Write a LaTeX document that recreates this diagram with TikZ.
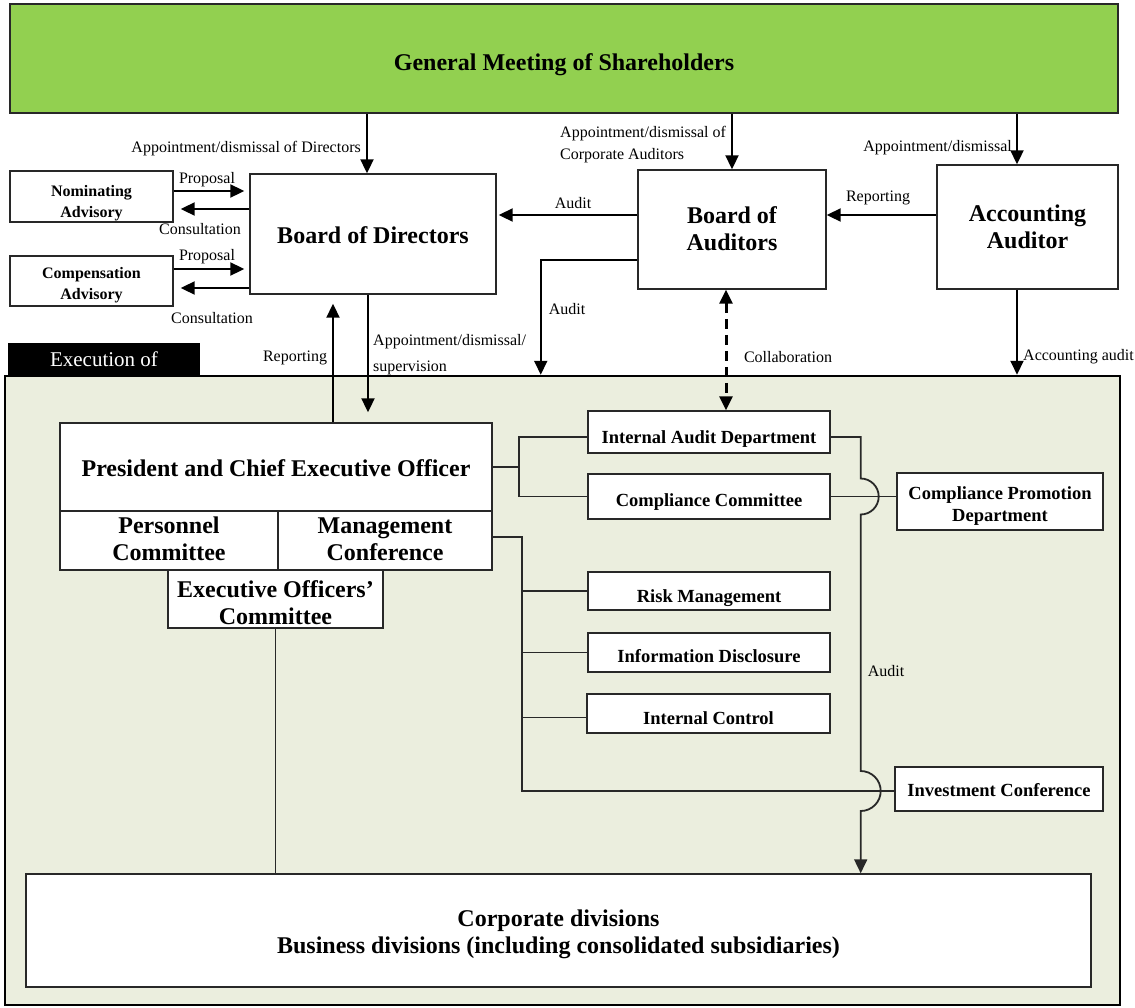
\documentclass[tikz,border=0pt]{standalone}
\usepackage{fontspec}
\setmainfont{Liberation Serif}
\usetikzlibrary{arrows.meta,calc}
\definecolor{gmgreen}{RGB}{146,208,80}
\definecolor{panelbg}{RGB}{235,238,222}
\definecolor{edge}{RGB}{40,40,40}
\newcommand\lowtxt[2]{\raisebox{-#1}[\height][\depth]{\begin{tabular}{@{}c@{}}#2\end{tabular}}}
\begin{document}
\begin{tikzpicture}[x=1pt,y=-1pt,
  box/.style={draw=edge,line width=1.4pt,fill=white,inner sep=0pt,align=center,text=black},
  big/.style={font=\fontsize{24}{27}\selectfont\bfseries},
  mid/.style={font=\fontsize{18.5}{22}\selectfont\bfseries},
  sml/.style={font=\fontsize{16}{21}\selectfont\bfseries},
  lbl/.style={font=\fontsize{16}{22}\selectfont,inner sep=0pt,align=left},
  arr/.style={line width=2pt,-{Triangle[length=14pt,width=13pt]}},
  tree/.style={line width=1.8pt,draw=edge},
]
\useasboundingbox (0,0) rectangle (1135,1007);

% panel and tab
\node[draw=black,line width=2.5pt,fill=panelbg,minimum width=1115pt,minimum height=629pt,inner sep=0pt] (panel) at (562.5,690.5) {};
\node[fill=black,text=white,minimum width=192pt,minimum height=33pt,inner sep=0pt,font=\fontsize{21}{24}\selectfont] (tab) at (104,359.5) {Execution of};

% top level boxes
\node[box,fill=gmgreen,minimum width=1108pt,minimum height=109pt,font=\fontsize{24}{28}\selectfont\bfseries] (gm) at (564,58.5) {\lowtxt{6pt}{General Meeting of Shareholders}};
\node[box,big,minimum width=246pt,minimum height=120pt] (bod) at (373,234) {\lowtxt{4pt}{Board of Directors}};
\node[box,sml,minimum width=163pt,minimum height=51pt] (nom) at (91.5,196.5) {\lowtxt{6pt}{Nominating\\Advisory}};
\node[box,sml,minimum width=163pt,minimum height=50pt] (comp) at (91.5,281) {\lowtxt{4pt}{Compensation\\Advisory}};
\node[box,big,minimum width=188pt,minimum height=119pt] (boa) at (732,229.5) {\lowtxt{2pt}{Board of\\Auditors}};
\node[box,big,minimum width=181pt,minimum height=124pt] (aa) at (1027.5,227) {\lowtxt{3pt}{Accounting\\Auditor}};

% execution boxes
\node[box,big,minimum width=432pt,minimum height=88pt] (ceo) at (276,467) {\lowtxt{4pt}{President and Chief Executive Officer}};
\node[box,big,minimum width=218pt,minimum height=59pt] (pers) at (169,540.5) {\lowtxt{1pt}{Personnel\\Committee}};
\node[box,big,minimum width=214pt,minimum height=59pt] (mgmt) at (385,540.5) {\lowtxt{1pt}{Management\\Conference}};
\node[box,big,minimum width=215pt,minimum height=58pt] (eoc) at (275.5,599) {\lowtxt{7pt}{Executive Officers’\\Committee}};
\node[box,mid,minimum width=242pt,minimum height=42pt] (iad) at (709,432) {\lowtxt{7pt}{Internal Audit Department}};
\node[box,mid,minimum width=242pt,minimum height=45pt] (cc) at (709,496.5) {\lowtxt{6pt}{Compliance Committee}};
\node[box,mid,minimum width=206pt,minimum height=57pt] (cpd) at (1000,501.5) {\lowtxt{5pt}{Compliance Promotion\\Department}};
\node[box,mid,minimum width=242pt,minimum height=38pt] (rm) at (709,591) {\lowtxt{7pt}{Risk Management}};
\node[box,mid,minimum width=242pt,minimum height=39pt] (id) at (709,652.5) {\lowtxt{6pt}{Information Disclosure}};
\node[box,mid,minimum width=243pt,minimum height=39pt] (ic) at (708.5,713.5) {\lowtxt{7pt}{Internal Control}};
\node[box,mid,minimum width=208pt,minimum height=44pt] (invc) at (999,789) {\lowtxt{3pt}{Investment Conference}};
\node[box,big,minimum width=1065pt,minimum height=113pt] (corp) at (558.5,930.5) {\lowtxt{4pt}{Corporate divisions\\Business divisions (including consolidated subsidiaries)}};

% appointments from GM
\path ([xshift=-6pt]bod.north) coordinate (bodin);
\draw[arr] (gm.south -| bodin) -- (bodin);
\draw[arr] (gm.south -| boa.north) -- (boa.north);
\path ([xshift=-10.5pt]aa.north) coordinate (aain);
\draw[arr] (gm.south -| aain) -- (aain);
\node[lbl,anchor=east] (l1) at (361,149) {Appointment/dismissal of Directors};
\node[lbl,anchor=west] (l2) at (560,145) {Appointment/dismissal of\\Corporate Auditors};
\node[lbl,anchor=east] (l3) at (1012,148) {Appointment/dismissal};

% advisory committees
\draw[arr] ($(nom.east)+(0,-5.5)$) -- ($(nom.east -| bod.west)+(-5,-5.5)$);
\draw[arr] ($(nom.east -| bod.west)+(0,12.5)$) -- ($(nom.east)+(7,12.5)$);
\draw[arr] ($(comp.east)+(0,-12)$) -- ($(comp.east -| bod.west)+(-5,-12)$);
\draw[arr] ($(comp.east -| bod.west)+(0,7)$) -- ($(comp.east)+(7,7)$);
\node[lbl] (p1) at (207,180) {Proposal};
\node[lbl] (c1) at (200,229) {Consultation};
\node[lbl] (p2) at (207,257) {Proposal};
\node[lbl] (c2) at (212,318) {Consultation};

% auditors
\draw[arr] ($(boa.west)+(0,-14.5)$) -- ($(boa.west -| bod.east)+(2,-14.5)$);
\node[lbl] (a1) at (573,203) {Audit};
\draw[arr] ($(aa.west)+(0,-12)$) -- ($(aa.west -| boa.east)+(0,-12)$);
\node[lbl] (r1) at (878,198) {Reporting};
\path ($(panel.north west)+(537,0)$) coordinate (auditdrop);
\draw[arr] ($(boa.west)+(0,30.5)$) -| (auditdrop);
\node[lbl] (a2) at (567,309) {Audit};
\path ([xshift=-6pt]boa.south) coordinate (colltop);
\draw[line width=3pt,dash pattern=on 10pt off 6pt,{Triangle[length=14pt,width=13pt]}-{Triangle[length=14pt,width=13pt]}] (colltop) -- (iad.north -| colltop);
\node[lbl] (co) at (788,357) {Collaboration};
\draw[arr] (aain |- aa.south) -- (aain |- panel.north);
\node[lbl,anchor=west] (aca) at (1023,357) {Accounting audit};

% board <-> CEO
\path ($(bod.south)+(-40,9)$) coordinate (rep);
\draw[arr] (ceo.north -| rep) -- (rep);
\node[lbl] (r2) at (295,358) {Reporting};
\draw[arr] ($(bod.south)+(-5,0)$) -- ($(ceo.north -| bod.south)+(-5,-10)$);
\node[lbl,anchor=west,font=\fontsize{16}{26}\selectfont] (sup) at (373,355) {Appointment/dismissal/\\supervision};

% CEO tree
\draw[tree] (ceo.east) -- ++(26,0) coordinate (tj);
\draw[tree] ($(iad.west)+(0,5)$) -| (tj) |- (cc.west);

% management conference tree
\path ($(invc.west)+(0,2)$) coordinate (invline);
\draw[tree] ($(mgmt.east)+(0,-3.5)$) -- ++(29,0) coordinate (mj) -- (mj |- invline) -- (invline);
\draw[tree] (mj |- rm.west) -- (rm.west);
\draw[tree] (mj |- id.west) -- (id.west);
\draw[tree] ($(mj |- ic.west)+(0,4)$) -- ($(ic.west)+(0,4)$);

% compliance committee to promotion department
\draw[tree] (cc.east) -- (cc.east -| cpd.west);

% audit line with jumps
\draw[line width=1.8pt,draw=edge,-{Triangle[length=14pt,width=13pt]}]
  ($(iad.east)+(0,5)$) -- ++(30,0) coordinate (aj)
  -- ($(aj |- cc.east)+(0,-18)$) arc[start angle=-90,end angle=90,radius=18]
  -- ($(aj |- invline)+(0,-20)$) arc[start angle=-90,end angle=90,radius=20]
  -- (aj |- corp.north);
\node[lbl] (a3) at (886,671) {Audit};

% EOC to divisions
\draw[tree] (eoc.south) -- (eoc.south |- corp.north);
\end{tikzpicture}
\end{document}
